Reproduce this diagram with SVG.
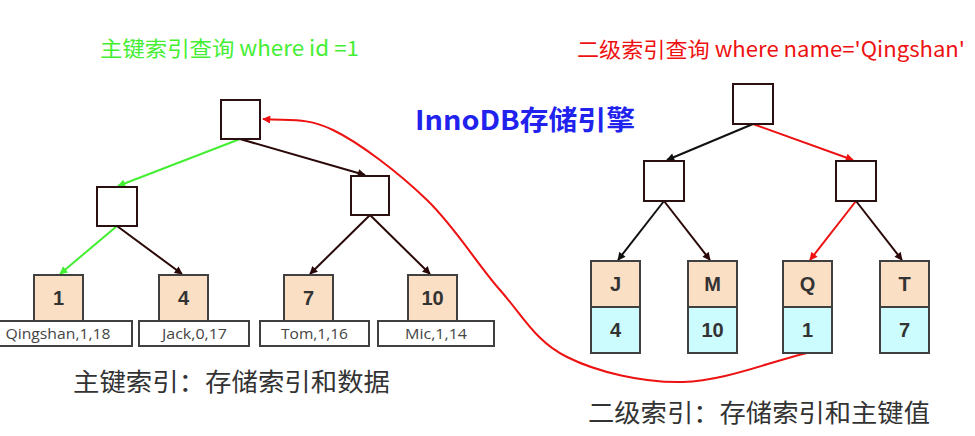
<svg xmlns="http://www.w3.org/2000/svg" width="975" height="436" viewBox="0 0 975 436">
<defs>
<marker id="aDark" viewBox="0 0 10 10" refX="9" refY="5" markerWidth="9" markerHeight="8" markerUnits="userSpaceOnUse" orient="auto"><path d="M0,0 L10,5 L0,10 z" fill="#2a0808"/></marker>
<marker id="aBlack" viewBox="0 0 10 10" refX="9" refY="5" markerWidth="9" markerHeight="8" markerUnits="userSpaceOnUse" orient="auto"><path d="M0,0 L10,5 L0,10 z" fill="#111"/></marker>
<marker id="aGreen" viewBox="0 0 10 10" refX="9" refY="5" markerWidth="9" markerHeight="8" markerUnits="userSpaceOnUse" orient="auto"><path d="M0,0 L10,5 L0,10 z" fill="#44ee33"/></marker>
<marker id="aRed" viewBox="0 0 10 10" refX="9" refY="5" markerWidth="9" markerHeight="8" markerUnits="userSpaceOnUse" orient="auto"><path d="M0,0 L10,5 L0,10 z" fill="#ee1111"/></marker>
</defs>
<style>
text{font-family:"Liberation Sans","Noto Sans CJK SC",sans-serif}
.cjk{font-family:"Noto Sans CJK SC","Liberation Sans",sans-serif}
.inner{fill:#fff;stroke:#2a1010;stroke-width:2}
.key{fill:#fbdfc4;stroke:#404040;stroke-width:2}
.val{fill:#ccfcfd;stroke:#404040;stroke-width:2}
.row{fill:#fff;stroke:#404040;stroke-width:2}
.kt{font-size:20px;font-weight:bold;fill:#333;text-anchor:middle}
.rt{font-family:"Open Sans","Liberation Sans",sans-serif;font-size:15px;fill:#444;text-anchor:middle}
.cap{font-size:25px;fill:#333}
.e{fill:none;stroke-width:2}
.dk{stroke:#2a0808;marker-end:url(#aDark)}
.bk{stroke:#111;marker-end:url(#aBlack)}
.gr{stroke:#44ee33;marker-end:url(#aGreen)}
.rd{stroke:#ee1111;marker-end:url(#aRed)}
</style>
<rect width="975" height="436" fill="#fff"/>
<text class="cjk" x="100" y="56" font-size="21" fill="#44ee33" textLength="259" lengthAdjust="spacingAndGlyphs">主键索引查询 where id =1</text>
<text class="cjk" x="577" y="57" font-size="21" fill="#ee1111" textLength="388" lengthAdjust="spacingAndGlyphs">二级索引查询 where name='Qingshan'</text>
<text class="cjk" x="415" y="130" font-size="27" font-weight="bold" fill="#2222ee" textLength="220" lengthAdjust="spacingAndGlyphs">InnoDB存储引擎</text>

<g id="connectors">
<line class="e gr" x1="240" y1="139" x2="118" y2="186"/>
<line class="e dk" x1="240" y1="139" x2="365" y2="175"/>
<line class="e gr" x1="117" y1="226" x2="60" y2="274"/>
<line class="e dk" x1="117" y1="226" x2="182" y2="274"/>
<line class="e dk" x1="370" y1="215" x2="310" y2="274"/>
<line class="e dk" x1="370" y1="215" x2="430" y2="274"/>
<line class="e bk" x1="753" y1="124" x2="667" y2="160"/>
<line class="e rd" x1="753" y1="124" x2="853" y2="160"/>
<line class="e bk" x1="664" y1="201" x2="618" y2="260"/>
<line class="e dk" x1="664" y1="201" x2="710" y2="260"/>
<line class="e rd" x1="856" y1="201" x2="810" y2="260"/>
<line class="e dk" x1="856" y1="201" x2="902" y2="260"/>
<path class="e rd" d="M807,353 C766,363 723,381 683,382 C643,383 597,372 567,357 C536,342 523,316 500,290 C477,264 455,227 427,200 C399,173 360,143 333,130 C306,117 290,121 263,119"/>
</g>

<g id="pk-root"><rect class="inner" x="221" y="100" width="39" height="39"/></g>
<g id="pk-left"><rect class="inner" x="97" y="187" width="40" height="39"/></g>
<g id="pk-right"><rect class="inner" x="351" y="176" width="38" height="39"/></g>

<g id="pk-leaf-1"><rect class="key" x="34" y="275" width="49" height="46"/><text class="kt" x="58.5" y="305">1</text>
<rect class="row" x="-2" y="321" width="134" height="25"/><text class="rt" x="58" y="339" textLength="105" lengthAdjust="spacingAndGlyphs">Qingshan,1,18</text></g>
<g id="pk-leaf-4"><rect class="key" x="159" y="275" width="49" height="46"/><text class="kt" x="183.5" y="305">4</text>
<rect class="row" x="139" y="321" width="110" height="25"/><text class="rt" x="194.5" y="339" textLength="65" lengthAdjust="spacingAndGlyphs">Jack,0,17</text></g>
<g id="pk-leaf-7"><rect class="key" x="284" y="275" width="49" height="46"/><text class="kt" x="308.5" y="305">7</text>
<rect class="row" x="260" y="321" width="109" height="25"/><text class="rt" x="314.5" y="339" textLength="67" lengthAdjust="spacingAndGlyphs">Tom,1,16</text></g>
<g id="pk-leaf-10"><rect class="key" x="408" y="275" width="49" height="46"/><text class="kt" x="432.5" y="305">10</text>
<rect class="row" x="378" y="321" width="116" height="25"/><text class="rt" x="436" y="339" textLength="62" lengthAdjust="spacingAndGlyphs">Mic,1,14</text></g>

<g id="sk-root"><rect class="inner" x="733" y="84" width="40" height="40"/></g>
<g id="sk-left"><rect class="inner" x="644" y="161" width="40" height="40"/></g>
<g id="sk-right"><rect class="inner" x="836" y="161" width="40" height="40"/></g>

<g id="sk-leaf-J"><rect class="key" x="591" y="261" width="49" height="46"/><text class="kt" x="615.5" y="291">J</text>
<rect class="val" x="591" y="307" width="49" height="46"/><text class="kt" x="615.5" y="337">4</text></g>
<g id="sk-leaf-M"><rect class="key" x="688" y="261" width="49" height="46"/><text class="kt" x="712.5" y="291">M</text>
<rect class="val" x="688" y="307" width="49" height="46"/><text class="kt" x="712.5" y="337">10</text></g>
<g id="sk-leaf-Q"><rect class="key" x="783" y="261" width="49" height="46"/><text class="kt" x="807.5" y="291">Q</text>
<rect class="val" x="783" y="307" width="49" height="46"/><text class="kt" x="807.5" y="337">1</text></g>
<g id="sk-leaf-T"><rect class="key" x="880" y="261" width="49" height="46"/><text class="kt" x="904.5" y="291">T</text>
<rect class="val" x="880" y="307" width="49" height="46"/><text class="kt" x="904.5" y="337">7</text></g>

<text class="cjk cap" x="73" y="391" textLength="317" lengthAdjust="spacingAndGlyphs">主键索引：存储索引和数据</text>
<text class="cjk cap" x="588" y="422" textLength="342" lengthAdjust="spacingAndGlyphs">二级索引：存储索引和主键值</text>
</svg>
